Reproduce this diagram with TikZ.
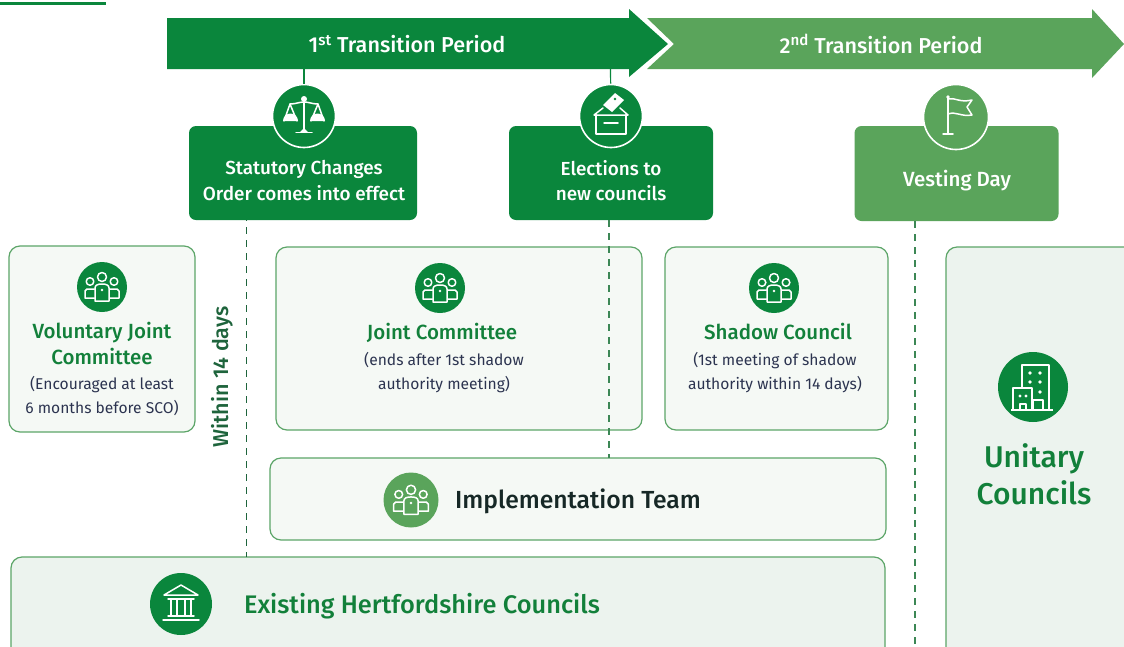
\documentclass[tikz,border=0pt]{standalone}
\usepackage{fontspec}
\setmainfont{Fira Sans}[BoldFont={Fira Sans Medium}]
\definecolor{gdark}{RGB}{10,134,60}
\definecolor{glight}{RGB}{90,164,91}
\definecolor{gtext}{RGB}{18,128,58}
\definecolor{gline}{RGB}{92,165,104}
\definecolor{cardfill}{RGB}{245,249,245}
\definecolor{cardfillb}{RGB}{236,243,238}
\definecolor{navy}{RGB}{44,52,80}
\definecolor{inkdark}{RGB}{22,40,38}
\definecolor{dashc}{RGB}{30,100,60}
\definecolor{dashm}{RGB}{60,135,85}
\tikzset{
  eventbox/.style={fill=#1,rounded corners=7pt,inner sep=0pt},
  eventtext/.style={text=white,align=center,font=\fontsize{18.9}{25.5}\selectfont\bfseries},
  card/.style={draw=gline,line width=1.2pt,fill=cardfill,rounded corners=11pt,inner sep=0pt},
  cardb/.style={card,fill=cardfillb},
  iconcircle/.style={circle,fill=#1,inner sep=0pt},
  ringed/.style={draw=white,line width=1.6pt},
  headtext/.style={text=gtext,align=center,font=\fontsize{20.5}{26}\selectfont\bfseries},
  subtext/.style={text=navy,align=center,font=\fontsize{15.6}{24}\selectfont},
  dashline/.style={line width=1.6pt,dash pattern=on 7pt off 6pt},
  stem/.style={draw=gdark,line width=1.2pt},
  ico/.style={draw=white,line width=1.5pt,line cap=round,line join=round},
  arrowlabel/.style={text=white,font=\fontsize{21.6}{26}\selectfont\bfseries}
}
\newcommand{\peopleicon}[3]{%
\begin{scope}[shift={(#1,#2)},scale=#3,ico]
  \draw (0,-10) circle (4.5);
  \draw (-12,-5.5) circle (3.8);
  \draw (12,-5.5) circle (3.8);
  \draw (-7.5,2) -- (-15,2) -- (-17,4) -- (-17,11) -- (-7.5,11);
  \draw (7.5,2) -- (15,2) -- (17,4) -- (17,11) -- (7.5,11);
  \draw (-7,14) -- (-7,1) .. controls (-7,-2) and (-4,-3) .. (0,-3) .. controls (4,-3) and (7,-2) .. (7,1) -- (7,14) -- cycle;
  \fill[white] (0,3) circle (1.3);
\end{scope}}
\begin{document}
\begin{tikzpicture}[x=1pt,y=-1pt]
\useasboundingbox (0,0) rectangle (1124,646);
\fill[white] (0,0) rectangle (1124,646);
\draw[draw=gdark,line width=3pt] (0,3) -- (106,3);

% period arrows
\fill[glight] (647,18) -- (1092,18) -- (1092,9) -- (1124,44) -- (1092,78) -- (1092,69) -- (647,69) -- (674,44) -- cycle;
\fill[gdark] (167,18) -- (629,18) -- (629,9) -- (668,44) -- (629,77) -- (629,69) -- (167,69) -- cycle;
\node[arrowlabel] (p1) at (407,44) {1\textsuperscript{st} Transition Period};
\node[arrowlabel] (p2) at (881,44) {2\textsuperscript{nd} Transition Period};
\coordinate (a1) at (304,69);
\coordinate (a2) at (610.5,69);

% cards
\node[card,minimum width=186pt,minimum height=186pt] (vjc) at (102,339) {};
\node[card,minimum width=366pt,minimum height=183pt] (jc) at (459,338.5) {};
\node[card,minimum width=223pt,minimum height=183pt] (sc) at (776.5,338.5) {};
\node[cardb,minimum width=190pt,minimum height=413pt] (uc) at (1041,453.5) {};
\node[card,minimum width=616pt,minimum height=82pt] (it) at (578,499) {};
\node[cardb,minimum width=874pt,minimum height=103pt] (ehc) at (448,608.5) {};

% event boxes
\node[eventbox=gdark,minimum width=228pt,minimum height=94pt] (sco) at (303,173) {};
\node[eventbox=gdark,minimum width=204pt,minimum height=94pt] (el) at (611,173) {};
\node[eventbox=glight,minimum width=204pt,minimum height=95pt] (vd) at (956.5,173.5) {};
\node[eventtext] (scot) at (304,180.5) {Statutory Changes\\Order comes into effect};
\node[eventtext] (elt) at (611,180.5) {Elections to\\new councils};
\node[eventtext,font=\fontsize{20.5}{26}\selectfont\bfseries] (vdt) at (957,180.5) {Vesting Day};

% icon circles
\node[iconcircle=gdark,ringed,minimum size=63pt] (c1) at (304,116) {};
\node[iconcircle=gdark,ringed,minimum size=63pt] (c2) at (611,116) {};
\node[iconcircle=glight,ringed,minimum size=65pt] (c3) at (956,117) {};
\draw[stem] (a1) -- (c1);
\draw[stem] (a2) -- (c2);

% scales icon
\begin{scope}[shift={(c1.center)},ico]
  \draw (0,-18) -- (0,15);
  \draw (-8,16.5) -- (8,16.5);
  \fill[white] (0,-17) circle (3);
  \fill[white] (-4,16) -- (0,12) -- (4,16) -- cycle;
  \draw (-14,-12) .. controls (-8,-12) and (-5,-14) .. (0,-14) .. controls (5,-14) and (8,-12) .. (14,-12);
  \draw (-14,-12) -- (-20,5) (-14,-12) -- (-7,5);
  \draw (14,-12) -- (20,5) (14,-12) -- (7,5);
  \fill[white] (-21,5) arc[start angle=180,end angle=360,radius=7.5];
  \fill[white] (6,5) arc[start angle=180,end angle=360,radius=7.5];
\end{scope}
% ballot icon
\begin{scope}[shift={(c2.center)},ico]
  \draw (-8,-8) -- (-17,-1) -- (17,-1) -- (9,-8);
  \draw (-15,-1) -- (-15,18) -- (15,18) -- (15,-1);
  \draw (-7,7) -- (7,7);
  \fill[white] (4,-23) -- (13,-16) -- (1,-4) -- (-8,-11) -- cycle;
  \fill[gdark] (4,-17) circle (1.3);
\end{scope}
% flag icon
\begin{scope}[shift={(c3.center)},ico]
  \draw (-8,-20) -- (-8,17);
  \draw (-13,17) -- (-3,17);
  \fill[white] (-8,-20) circle (1.8);
  \draw (-8,-18) .. controls (-1,-20) and (3,-14) .. (16,-17) -- (11,-10) -- (16,-2) .. controls (5,0) and (0,-6) .. (-8,-3);
\end{scope}

% people icons
\node[iconcircle=gdark,minimum size=50pt] (i1) at (102,287) {};
\peopleicon{102}{287}{1}
\node[iconcircle=gdark,minimum size=50pt] (i2) at (440,288) {};
\peopleicon{440}{288}{1}
\node[iconcircle=gdark,minimum size=50pt] (i3) at (774,288) {};
\peopleicon{774}{288}{1}
\node[iconcircle=glight,minimum size=55pt] (i4) at (411,500) {};
\peopleicon{411}{500}{1.02}

% bank icon
\node[iconcircle=gdark,minimum size=62pt] (i5) at (181,604) {};
\begin{scope}[shift={(i5.center)},ico]
  \draw (-17,-9) -- (0,-19) -- (17,-9) -- cycle;
  \draw (-13,-5) -- (13,-5);
  \draw (-10,-5) -- (-10,11) (-4,-5) -- (-4,11) (4,-5) -- (4,11) (10,-5) -- (10,11);
  \draw (-13,12) -- (13,12);
  \draw (-18,16) -- (18,16);
\end{scope}
% building icon
\node[iconcircle=gdark,minimum size=70pt] (i6) at (1033,387) {};
\begin{scope}[shift={(i6.center)},ico,line width=1.9pt,line cap=butt]
  \draw (-11,1) -- (-11,-22) -- (16,-22) -- (16,23);
  \draw (-20,23) -- (-20,1) -- (-1,1) -- (-1,23);
  \draw (-22,23) -- (20,23);
  \draw (-13,23) -- (-13,17) -- (-7,17) -- (-7,23);
  \draw (0,23) -- (0,13) -- (10,13) -- (10,23);
  \fill[white] (-3,-14) circle (1.9) (7,-14) circle (1.9) (-3,-5) circle (1.9) (7,-5) circle (1.9) (7,5) circle (1.9) (-13,9) circle (1.6) (-7,9) circle (1.6);
\end{scope}

% dashed lines
\coordinate (d1a) at (246.5,220);
\coordinate (d1b) at (246.5,557);
\coordinate (d2a) at (609,220);
\coordinate (d2b) at (609,458);
\coordinate (d3a) at (915,221);
\coordinate (d3b) at (915,646);
\draw[dashline,draw=dashc,dash phase=6pt] (d1a) -- (d1b);
\draw[dashline,draw=dashm] (d2a) -- (d2b);
\draw[dashline,draw=dashm] (d3a) -- (d3b);

% texts
\node[headtext] (t1) at (102,343.5) {Voluntary Joint\\Committee};
\node[subtext] (t1s) at (102,396) {(Encouraged at least\\6 months before SCO)};
\node[headtext] (t2) at (442,333) {Joint Committee};
\node[subtext] (t2s) at (444,372.5) {(ends after 1st shadow\\authority meeting)};
\node[headtext] (t3) at (778,331.5) {Shadow Council};
\node[subtext] (t3s) at (775,372.5) {(1st meeting of shadow\\authority within 14 days)};
\node[text=inkdark,font=\fontsize{24.7}{30}\selectfont\bfseries] (t4) at (578,501) {Implementation Team};
\node[text=gtext,font=\fontsize{25.4}{30}\selectfont\bfseries] (t5) at (422,606) {Existing Hertfordshire Councils};
\node[text=gtext,align=center,font=\fontsize{30}{37}\selectfont\bfseries] (t6) at (1034,474) {Unitary\\Councils};
\node[rotate=90,text=dashc,font=\fontsize{21.5}{24}\selectfont\bfseries] (t7) at (222,377) {Within 14 days};
\end{tikzpicture}
\end{document}
